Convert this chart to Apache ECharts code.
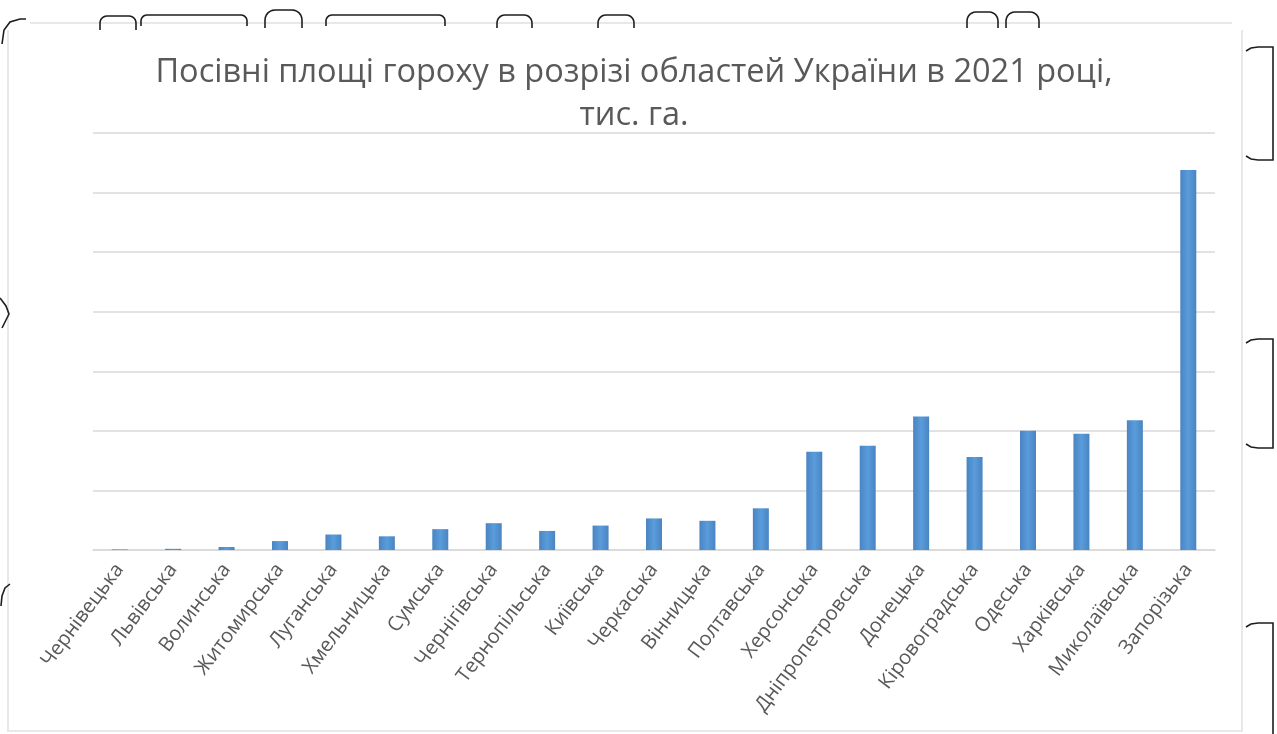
<!DOCTYPE html>
<html>
<head>
<meta charset="utf-8">
<script src="https://cdn.jsdelivr.net/npm/echarts@6/dist/echarts.min.js"></script>
<style>
  html, body { margin: 0; padding: 0; background: #ffffff; }
  #chart { width: 1277px; height: 734px; }
</style>
</head>
<body>
<div id="chart"></div>
<script>
// Області України (по зростанню посівних площ гороху)
const regions = [
  'Чернівецька', 'Львівська', 'Волинська', 'Житомирська', 'Луганська',
  'Хмельницька', 'Сумська', 'Чернігівська', 'Тернопільська', 'Київська',
  'Черкаська', 'Вінницька', 'Полтавська', 'Херсонська', 'Дніпропетровська',
  'Донецька', 'Кіровоградська', 'Одеська', 'Харківська', 'Миколаївська',
  'Запорізька'
];

// Посівні площі гороху, тис. га
const areas = [
  0.1, 0.2, 0.5, 1.5, 2.6,
  2.3, 3.5, 4.5, 3.2, 4.1,
  5.3, 4.9, 7.0, 16.5, 17.5,
  22.4, 15.6, 20.0, 19.5, 21.8,
  63.8
];

// Шкала осі значень (без підписів)
const yMin = 0;
const yMax = 70;
const yStep = 10;

const titleText = 'Посівні площі гороху в розрізі областей України в 2021 році,\nтис. га.';

const frameStroke = { stroke: '#1e1e1e', lineWidth: 1.6, fill: null };
const faintStroke = { stroke: '#e8e8e8', lineWidth: 2 };

// Дуга-«дужка» відкрита донизу: бічні стінки та заокруглені кути
function arch(x1, x2, yTop, yBottom, r) {
  const pts = [[x1, yBottom], [x1, yTop + r]];
  for (let i = 1; i <= 6; i++) {
    const a = Math.PI - (Math.PI / 2) * (i / 6);
    pts.push([x1 + r + r * Math.cos(a), yTop + r - r * Math.sin(a)]);
  }
  pts.push([x2 - r, yTop]);
  for (let i = 1; i <= 6; i++) {
    const a = Math.PI / 2 - (Math.PI / 2) * (i / 6);
    pts.push([x2 - r + r * Math.cos(a), yTop + r - r * Math.sin(a)]);
  }
  pts.push([x2, yBottom]);
  return { type: 'polyline', shape: { points: pts }, style: frameStroke, silent: true };
}

// Права квадратна дужка зі злегка загнутими кінцями
function rightBracket(yTop, yBottom) {
  const pts = [[1246, yTop + 4], [1251, yTop + 1], [1258, yTop], [1273, yTop],
               [1273, yBottom], [1258, yBottom], [1251, yBottom - 1], [1246, yBottom - 4]];
  return { type: 'polyline', shape: { points: pts }, style: frameStroke, silent: true };
}

function stroke(points) {
  return { type: 'polyline', shape: { points: points }, style: frameStroke, silent: true };
}

function faint(x1, y1, x2, y2) {
  return { type: 'line', shape: { x1: x1, y1: y1, x2: x2, y2: y2 }, style: faintStroke, silent: true, z: -1 };
}

// Обрамлення сторінки навколо діаграми
const frame = [
  faint(8, 30, 8, 732),
  faint(1242, 30, 1242, 732),
  faint(30, 23, 1232, 23),
  faint(8, 731, 1242, 731),
  stroke([[2, 44], [4, 30], [10, 22], [20, 19], [26, 19]]),
  arch(100, 136, 16, 30, 7),
  arch(141, 247, 15, 26, 6),
  arch(265, 302, 10, 28, 10),
  arch(326, 445, 15, 26, 6),
  arch(497, 532, 15, 28, 8),
  arch(598, 634, 15, 28, 8),
  arch(967, 998, 12, 28, 9),
  arch(1006, 1039, 12, 28, 9),
  rightBracket(47, 160),
  rightBracket(339, 448),
  stroke([[1246, 627], [1251, 624], [1258, 623], [1273, 623], [1273, 734]]),
  stroke([[0, 298], [6, 306], [9, 314], [2, 328]]),
  stroke([[10, 584], [5, 588], [2, 596], [1, 606]])
];

const chart = echarts.init(document.getElementById('chart'), null, { renderer: 'canvas' });

chart.setOption({
  backgroundColor: '#ffffff',
  animation: false,
  title: {
    text: titleText,
    left: 629,
    top: 46,
    textAlign: 'center',
    textStyle: {
      fontFamily: 'Open Sans, sans-serif',
      fontSize: 32.5,
      fontWeight: 'normal',
      color: '#595959',
      lineHeight: 43
    }
  },
  grid: {
    left: 93,
    right: 62,
    top: 133,
    bottom: 184,
    containLabel: false
  },
  xAxis: {
    type: 'category',
    data: regions,
    axisLine: { show: true, lineStyle: { color: '#d9d9d9', width: 1.5 } },
    axisTick: { show: false },
    axisLabel: {
      interval: 0,
      rotate: 53,
      margin: 16,
      fontFamily: 'Open Sans, sans-serif',
      fontSize: 20,
      color: '#595959'
    }
  },
  yAxis: {
    type: 'value',
    min: yMin,
    max: yMax,
    interval: yStep,
    axisLine: { show: false },
    axisTick: { show: false },
    axisLabel: { show: false },
    splitLine: { show: true, lineStyle: { color: '#d9d9d9', width: 1.5 } }
  },
  series: [{
    type: 'bar',
    data: areas,
    barWidth: 16,
    itemStyle: {
      color: {
        type: 'linear', x: 0, y: 0, x2: 1, y2: 0,
        colorStops: [
          { offset: 0, color: '#4a84c2' },
          { offset: 0.5, color: '#5a9cdb' },
          { offset: 1, color: '#4a84c2' }
        ]
      }
    }
  }],
  graphic: { elements: frame }
});
</script>
</body>
</html>
